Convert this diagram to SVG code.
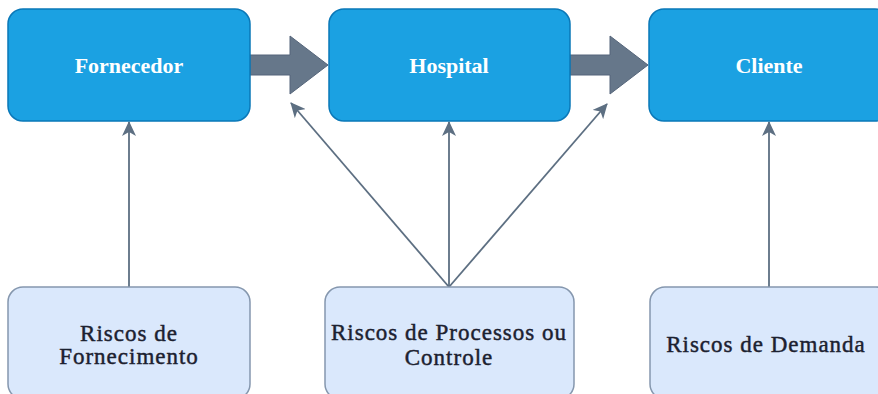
<svg xmlns="http://www.w3.org/2000/svg" width="878" height="394" viewBox="0 0 878 394">
  <style>
    .top rect { fill: #1ba1e2; stroke: #0a78b8; stroke-width: 1.5; }
    .top text { font-family: "Liberation Serif", "Times New Roman", serif; font-weight: bold; font-size: 22px; fill: #ffffff; text-anchor: middle; }
    .bot rect { fill: #dae8fc; stroke: #8597ae; stroke-width: 1.5; }
    .bot text { font-family: "Liberation Serif", "Times New Roman", serif; font-size: 23px; fill: #1c2130; stroke: #1c2130; stroke-width: 0.45px; text-anchor: middle; letter-spacing: 1px; }
    .flow { fill: #66778a; stroke: #55657a; stroke-width: 1; }
    .link { fill: none; stroke: #5d6f82; stroke-width: 1.8; marker-end: url(#arr); }
  </style>
  <defs>
    <marker id="arr" markerUnits="userSpaceOnUse" markerWidth="16" markerHeight="14" refX="14" refY="7" orient="auto" viewBox="0 0 16 14">
      <path d="M0,0 L15,7 L0,14 L4,7 Z" fill="#5d6f82"/>
    </marker>
  </defs>
  <rect width="878" height="394" fill="#ffffff"/>

  <g id="connectors">
    <path class="flow" d="M250,55 L290,55 L290,36 L328,65 L290,94 L290,75 L250,75 Z"/>
    <path class="flow" d="M570,55 L610,55 L610,36 L648,65 L610,94 L610,75 L570,75 Z"/>
    <line class="link" x1="129" y1="287" x2="129" y2="122"/>
    <line class="link" x1="449" y1="287" x2="449" y2="122"/>
    <line class="link" x1="449" y1="287" x2="291" y2="103"/>
    <line class="link" x1="449" y1="287" x2="607" y2="104"/>
    <line class="link" x1="769" y1="287" x2="769" y2="122"/>
  </g>

  <g id="fornecedor" class="top">
    <rect x="8" y="9" width="242" height="112" rx="15"/>
    <text x="129" y="73">Fornecedor</text>
  </g>
  <g id="hospital" class="top">
    <rect x="329" y="9" width="241" height="112" rx="15"/>
    <text x="449" y="73">Hospital</text>
  </g>
  <g id="cliente" class="top">
    <rect x="649" y="9" width="241" height="112" rx="15"/>
    <text x="769" y="73">Cliente</text>
  </g>

  <g id="riscos-fornecimento" class="bot">
    <rect x="8" y="287" width="242" height="112" rx="15"/>
    <text x="129" y="341">Riscos de</text>
    <text x="129" y="364">Fornecimento</text>
  </g>
  <g id="riscos-processos" class="bot">
    <rect x="325" y="287" width="249" height="112" rx="15"/>
    <text x="449" y="340">Riscos de Processos ou</text>
    <text x="449" y="365">Controle</text>
  </g>
  <g id="riscos-demanda" class="bot">
    <rect x="650" y="287" width="241" height="112" rx="15"/>
    <text x="766" y="352">Riscos de Demanda</text>
  </g>
</svg>
